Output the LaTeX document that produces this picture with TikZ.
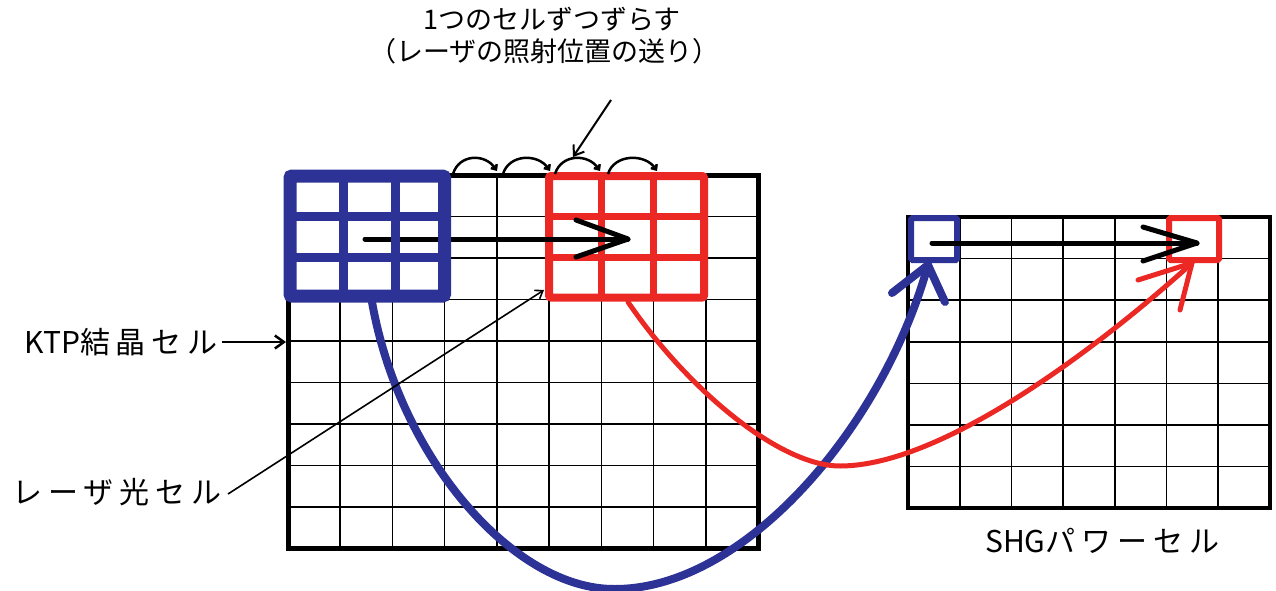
\documentclass[tikz,border=0pt]{standalone}
\usepackage{fontspec}
\newfontfamily\jptop{Noto Sans CJK JP}
\newfontfamily\jplab[LetterSpace=20]{Noto Sans CJK JP}
\newfontfamily\jplat{Noto Sans CJK JP}
\usetikzlibrary{arrows.meta}
\definecolor{cblue}{RGB}{45,50,150}
\definecolor{cred}{RGB}{235,40,35}
\begin{document}
\begin{tikzpicture}[x=1pt,y=-1pt,
  gridline/.style={line width=1.6pt},
  bigframe/.style={line width=5pt},
  smallframe/.style={line width=4pt},
  toptxt/.style={inner sep=0pt, anchor=west, font=\fontsize{27}{30}\selectfont},
  txt/.style={inner sep=0pt, anchor=west, font=\fontsize{30}{34}\selectfont},
  bluebox/.style={cblue, line width=13pt, rounded corners=2pt},
  blueinner/.style={cblue, line width=9pt},
  redbox/.style={cred, line width=8pt, rounded corners=2pt},
  redinner/.style={cred, line width=7.5pt},
  movearrow/.style={line width=5pt, line cap=round, line join=round},
  hop/.style={line width=2.5pt, -{Straight Barb[length=4pt,width=7pt]}},
  pointer/.style={line width=2pt, -{Straight Barb[length=9pt,width=13pt]}},
  thinpointer/.style={line width=1.6pt, -{Straight Barb[length=7pt,width=10pt]}},
  bluecurve/.style={cblue, line width=8pt, line cap=round, line join=round},
  redcurve/.style={cred, line width=5pt, line cap=round, line join=round}
]
\useasboundingbox (0,0) rectangle (1276,591);

% ---------- left grid (KTP crystal cells) ----------
\foreach \i in {1,...,8} {\draw[gridline] ({288+\i*52.22},175) -- ({288+\i*52.22},548.5);}
\foreach \j in {1,...,8} {\draw[gridline] (288,{175+\j*41.5}) -- (758,{175+\j*41.5});}
\draw[bigframe] (288,175) rectangle (758,548.5);

% ---------- right grid (SHG power cells) ----------
\foreach \i in {1,...,6} {\draw[gridline] ({908+\i*51.7},217) -- ({908+\i*51.7},508.2);}
\foreach \j in {1,...,6} {\draw[gridline] (908,{217+\j*41.6}) -- (1270,{217+\j*41.6});}
\draw[smallframe] (908,217) rectangle (1270,508.2);

% ---------- red 3x3 laser cell ----------
\draw[redinner] (601.3,176) -- (601.3,297.5) (653.5,176) -- (653.5,297.5)
                (549,216.5) -- (704,216.5) (549,257.5) -- (704,257.5);
\draw[redbox] (549,176) rectangle (704,297.5);

% ---------- black move arrow (left) ----------
\coordinate (la0) at (365,239);
\coordinate (la1) at (628,239);
\coordinate (lb1) at (576,220);
\coordinate (lb2) at (576,257);
\draw[movearrow] (la0) -- (la1);
\draw[movearrow] (lb1) -- (la1) -- (lb2);

% ---------- blue 3x3 laser cell ----------
\draw[blueinner] (343,176) -- (343,296) (395,176) -- (395,296)
                 (290,216) -- (444.5,216) (290,257.5) -- (444.5,257.5);
\draw[bluebox] (290,176) rectangle (444.5,296);

% ---------- small cells on the right ----------
\draw[cblue, line width=6pt, rounded corners=1.5pt] (911,218) rectangle (957,260);
\draw[cred, line width=6pt, rounded corners=1.5pt] (1169,218) rectangle (1219,260);
\coordinate (ra0) at (932,243);
\coordinate (ra1) at (1197,243);
\coordinate (rb1) at (1143,227);
\coordinate (rb2) at (1143,261);
\draw[movearrow] (ra0) -- (ra1);
\draw[movearrow] (rb1) -- (ra1) -- (rb2);

% ---------- blue curve ----------
\coordinate (bs) at (372,302);
\coordinate (bm) at (615,589);
\coordinate (bt) at (928,265);
\coordinate (bb1) at (892,293);
\coordinate (bb2) at (945,302);
\draw[bluecurve] (bs) .. controls (400,460) and (515,590) .. (bm)
                      .. controls (745,589) and (883,427) .. (bt);
\draw[bluecurve] (bb1) -- (bt) -- (bb2);

% ---------- red curve ----------
\coordinate (rs) at (628,302);
\coordinate (rm) at (840,466);
\coordinate (rt) at (1192,263);
\coordinate (rbb1) at (1138,280);
\coordinate (rbb2) at (1180,310);
\draw[redcurve] (rs) .. controls (688,390) and (780,466) .. (rm)
                     .. controls (945,466) and (1106,341) .. (rt);
\draw[redcurve] (rbb1) -- (rt) -- (rbb2);

% ---------- hops along the top ----------
\foreach \a/\b in {453/497, 503/550, 555/600, 608/657}
  {\draw[hop] (\a,174) .. controls (\a+6,154) and (\b-12,153) .. (\b,171);}

% ---------- texts ----------
\node[toptxt] (t1) at (423,19) {\jptop 1つのセルずつずらす};
\node[toptxt] (t2) at (369,51) {\jptop （レーザの照射位置の送り）};
\node[txt] (ktp) at (24,342) {\jplat KTP\jplab 結晶セル};
\node[txt] (laser) at (12,492) {\jplab レーザ光セル};
\node[txt] (shg) at (985,541) {\jplat SHG\jplab パワーセル};

% ---------- pointers ----------
\coordinate (p1) at (611,100);
\coordinate (p2) at (573,157);
\draw[pointer] (p1) -- (p2);
\coordinate (k1) at (222,342);
\coordinate (k2) at (286,342);
\draw[pointer, line width=2.5pt] (k1) -- (k2);
\coordinate (l1) at (228,494);
\coordinate (l2) at (544,290);
\draw[thinpointer] (l1) -- (l2);
\end{tikzpicture}
\end{document}
